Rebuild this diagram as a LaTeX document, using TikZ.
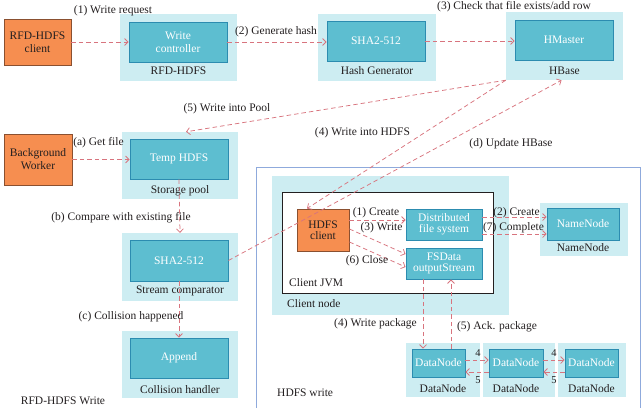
\documentclass[tikz,border=0pt]{standalone}
\usepackage{fontspec}
\setmainfont{Liberation Serif}
\usetikzlibrary{arrows.meta,calc}
\definecolor{orfill}{HTML}{F68E50}
\definecolor{ordraw}{HTML}{8A5030}
\definecolor{cyfill}{HTML}{5DBED0}
\definecolor{cydraw}{HTML}{2C8CB0}
\definecolor{grfill}{HTML}{CDEDF2}
\definecolor{arcol}{HTML}{D8747E}
\definecolor{hwcol}{HTML}{8FAADC}
\definecolor{txt}{HTML}{231F20}
\tikzset{
  fnt/.style={font=\fontsize{11.5}{13}\selectfont},
  grp/.style={fill=grfill, draw=none, inner sep=0pt},
  inbox/.style={fill=cyfill, draw=cydraw, line width=0.9pt, text=white, fnt, align=center, inner sep=0pt},
  orbox/.style={fill=orfill, draw=ordraw, line width=0.9pt, text=txt, fnt, align=center, inner sep=0pt},
  lbl/.style={text=txt, fnt, inner sep=0pt},
  arr/.style={draw=arcol, line width=0.75pt, dash pattern=on 4.5pt off 3pt, -{Straight Barb[length=3.5pt,width=7pt]}},
}
\begin{document}
\begin{tikzpicture}[x=1pt,y=-1pt]
\useasboundingbox (0,0) rectangle (642,407);
% outer HDFS write box
\node[draw=hwcol, line width=0.8pt, minimum width=384pt, minimum height=263pt, inner sep=0pt] (hw) at (448,298.5) {};
% groups
\node[grp, minimum width=117pt, minimum height=67pt] (g1) at (178.5,47.5) {};
\node[grp, minimum width=118pt, minimum height=67pt] (g2) at (377,47.5) {};
\node[grp, minimum width=117pt, minimum height=68pt] (g3) at (564.5,46) {};
\node[grp, minimum width=116pt, minimum height=67pt] (g4) at (180,165.5) {};
\node[grp, minimum width=116pt, minimum height=68pt] (g5) at (180,267) {};
\node[grp, minimum width=116pt, minimum height=67pt] (g6) at (180,364.5) {};
\node[grp, minimum width=237pt, minimum height=139pt] (cn) at (390.5,245.5) {};
\node[grp, minimum width=88pt, minimum height=53pt] (nng) at (584,229.5) {};
\node[grp, minimum width=74pt, minimum height=54pt] (dg1) at (443,370) {};
\node[grp, minimum width=72pt, minimum height=54pt] (dg2) at (519,370) {};
\node[grp, minimum width=68pt, minimum height=54pt] (dg3) at (592,370) {};
% client JVM
\node[fill=white, draw=txt, line width=0.7pt, minimum width=211pt, minimum height=101pt, inner sep=0pt] (jvm) at (387.5,242.5) {};
% boxes
\node[orbox, minimum width=67pt, minimum height=46pt] (client) at (37.5,42) {RFD-HDFS\\client};
\node[orbox, minimum width=68pt, minimum height=51pt] (bw) at (38,159.5) {Background\\Worker};
\node[inbox, minimum width=98pt, minimum height=40pt] (wc) at (178,42) {Write\\controller};
\node[inbox, minimum width=98pt, minimum height=40pt] (sha1) at (376,41) {SHA2-512};
\node[inbox, minimum width=98pt, minimum height=40pt] (hm) at (564,40) {HMaster};
\node[inbox, minimum width=98pt, minimum height=40pt] (tmp) at (179,159) {Temp HDFS};
\node[inbox, minimum width=98pt, minimum height=41pt] (sha2) at (179,260.5) {SHA2-512};
\node[inbox, minimum width=98pt, minimum height=40pt] (app) at (179,358) {Append};
\node[orbox, minimum width=52pt, minimum height=42pt, font=\fontsize{11.5}{11}\selectfont] (hc) at (323,230) {HDFS\\client};
\node[inbox, minimum width=76pt, minimum height=31pt, font=\fontsize{11.5}{11}\selectfont] (dfs) at (444,224.5) {Distributed\\file system};
\node[inbox, minimum width=76pt, minimum height=31pt, font=\fontsize{11.5}{11}\selectfont] (fsd) at (444,263.5) {FSData\\outputStream};
\node[inbox, minimum width=72pt, minimum height=32pt] (nn) at (583,224) {NameNode};
\node[inbox, minimum width=53pt, minimum height=28pt] (dn1) at (438.5,363) {DataNode};
\node[inbox, minimum width=54pt, minimum height=28pt] (dn2) at (516,363) {DataNode};
\node[inbox, minimum width=53pt, minimum height=28pt] (dn3) at (591.5,363) {DataNode};
% group labels
\node[lbl] (l1) at (178.5,71) {RFD-HDFS};
\node[lbl] (l2) at (377,71) {Hash Generator};
\node[lbl] (l3) at (564.5,71) {HBase};
\node[lbl] (l4) at (180,191) {Storage pool};
\node[lbl] (l5) at (180,291) {Stream comparator};
\node[lbl] (l6) at (180,390) {Collision handler};
\node[lbl] (l7) at (583,248) {NameNode};
\node[lbl] (l8) at (443,389) {DataNode};
\node[lbl] (l9) at (516,389) {DataNode};
\node[lbl] (l10) at (591.5,389) {DataNode};
\node[lbl, anchor=west] (ljvm) at (289,283) {Client JVM};
\node[lbl, anchor=west] (lcn) at (287,304) {Client node};
\node[lbl, anchor=west] (lhw) at (277,393) {HDFS write};
\node[lbl] (lrw) at (63,401) {RFD-HDFS Write};
% arrows
\draw[arr] (client.east) -- (wc.west);
\draw[arr] (wc.east) -- (wc.east -| sha1.west);
\draw[arr] (sha1.east) -- (sha1.east -| hm.west);
\draw[arr] (bw.east) -- (bw.east -| tmp.west);
\draw[arr] (g3.south west) -- ($(g4.north)+(6,0)$);
\draw[arr] (g3.south west) -- ($(hc.north)+(-16,0)$);
\draw[arr] (sha2.east) -- ($(g3.south)+(-3,0)$);
\draw[arr] (tmp.south) -- (g5.north);
\draw[arr] (sha2.south) -- (app.north);
\draw[arr] ($(hc.east)+(0,-10)$) -- ($(dfs.west)+(0,-4.5)$);
\draw[arr] ($(hc.east)+(0,-1)$) -- ($(fsd.west)+(0,-9.5)$);
\draw[arr] ($(hc.east)+(0,12)$) -- ($(fsd.west)+(0,3.5)$);
\draw[arr] ($(dfs.east)+(0,-7.5)$) -- ($(nn.west)+(0,-7)$);
\draw[arr] ($(dfs.east)+(0,9.5)$) -- ($(nn.west)+(0,10)$);
\draw[arr] ($(fsd.south)+(-21,0)$) -- ($(dn1.north)+(-15.5,0)$);
\draw[arr] ($(dn1.north)+(12.5,0)$) -- ($(fsd.south)+(7,0)$);
\draw[arr] ($(dn1.east)+(0,-3)$) -- ($(dn2.west)+(0,-3)$);
\draw[arr] ($(dn2.west)+(0,9)$) -- ($(dn1.east)+(0,9)$);
\draw[arr] ($(dn2.east)+(0,-3)$) -- ($(dn3.west)+(0,-3)$);
\draw[arr] ($(dn3.west)+(0,9)$) -- ($(dn2.east)+(0,9)$);
% arrow labels
\node[lbl] (a1) at (113,11) {(1) Write request};
\node[lbl] (a2) at (276,32) {(2) Generate hash};
\node[lbl] (a3) at (514,6.5) {(3) Check that file exists/add row};
\node[lbl] (a5) at (227,109) {(5) Write into Pool};
\node[lbl] (aa) at (98.5,143) {(a) Get file};
\node[lbl] (a4) at (362.5,133) {(4) Write into HDFS};
\node[lbl] (ad) at (511,144) {(d) Update HBase};
\node[lbl] (ab) at (121,218) {(b) Compare with existing file};
\node[lbl] (ac) at (131,317) {(c) Collision happened};
\node[lbl] (h1) at (376,213) {(1) Create};
\node[lbl] (h3) at (381.5,228) {(3) Write};
\node[lbl] (h6) at (367,261) {(6) Close};
\node[lbl] (h2) at (516.5,213) {(2) Create};
\node[lbl] (h7) at (513.5,228) {(7) Complete};
\node[lbl] (h4) at (375.5,324) {(4) Write package};
\node[lbl] (h5) at (497,327) {(5) Ack. package};
\node[lbl, font=\fontsize{10.5}{12}\selectfont] (n4a) at (478,353) {4};
\node[lbl, font=\fontsize{10.5}{12}\selectfont] (n5a) at (478,380) {5};
\node[lbl, font=\fontsize{10.5}{12}\selectfont] (n4b) at (554,353) {4};
\node[lbl, font=\fontsize{10.5}{12}\selectfont] (n5b) at (554,380) {5};
\end{tikzpicture}
\end{document}
